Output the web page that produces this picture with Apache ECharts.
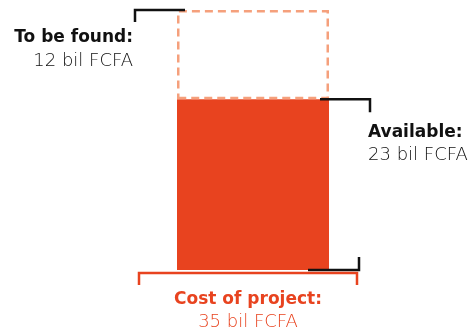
<!DOCTYPE html>
<html><head><meta charset="utf-8">
<script src="https://cdn.jsdelivr.net/npm/echarts@6/dist/echarts.min.js"></script>
<style>html,body{margin:0;padding:0;background:#fff}#c{width:473px;height:333px}</style>
</head><body><div id="c"></div>
<script>
const categories = ['Cost of project'];
const availableValues = [23];
const toBeFoundValues = [12];
const totalValues = [35];
const labelTitles = ['To be found:', 'Available:', 'Cost of project:'];
const labelValues = ['12 bil FCFA', '23 bil FCFA', '35 bil FCFA'];

const FONT = '"DejaVu Sans"';
const chart = echarts.init(document.getElementById('c'), null, {renderer: 'canvas'});
chart.setOption({
  animation: false,
  grid: {left: 177, right: 144, top: 10, bottom: 63},
  xAxis: {type: 'category', data: categories, show: false},
  yAxis: {type: 'value', min: 0, max: totalValues[0], show: false},
  series: [
    {name: 'Available', type: 'bar', stack: 't', barWidth: '100%', data: availableValues,
     itemStyle: {color: '#E8431F'}},
    {name: 'To be found', type: 'bar', stack: 't', barWidth: '100%', data: toBeFoundValues,
     itemStyle: {color: 'rgba(0,0,0,0)', borderColor: '#F5A07C', borderWidth: 2.5, borderType: [8, 5]}}
  ]
});

const yb = chart.convertToPixel({yAxisIndex: 0}, 0);
const ya = chart.convertToPixel({yAxisIndex: 0}, availableValues[0]);
const yt = chart.convertToPixel({yAxisIndex: 0}, availableValues[0] + toBeFoundValues[0]);
const xc = chart.convertToPixel({xAxisIndex: 0}, categories[0]);
const half = 76;
const x0 = xc - half, x1 = xc + half;
const blk = {stroke: '#111', lineWidth: 2.5, fill: 'none'};
const org = {stroke: '#E8431F', lineWidth: 2.5, fill: 'none'};
function pl(points, style) { return {type: 'polyline', shape: {points}, style, z: 10}; }
function txt(x, y, t, align, size, weight, color) {
  return {type: 'text', x, y, z: 10, style: {text: t, align, verticalAlign: 'middle', fontFamily: FONT, fontSize: size, fontWeight: weight, fill: color}};
}
chart.setOption({graphic: [
  pl([[x0 - 42, yt + 12], [x0 - 42, yt], [x0 + 8, yt]], blk),
  pl([[x1 - 9, ya], [x1 + 41, ya], [x1 + 41, ya + 13]], blk),
  pl([[x1 - 21, yb], [x1 + 30, yb], [x1 + 30, yb - 13]], blk),
  pl([[x0 - 38, yb + 15], [x0 - 38, yb + 3], [x1 + 28, yb + 3], [x1 + 28, yb + 15]], org),
  txt(x0 - 44, yt + 28, labelTitles[0], 'right', 17, 'bold', '#111'),
  txt(x0 - 44, yt + 51, labelValues[0], 'right', 18, 200, '#111'),
  txt(x1 + 39, ya + 33, labelTitles[1], 'left', 17, 'bold', '#111'),
  txt(x1 + 39, ya + 56, labelValues[1], 'left', 18, 200, '#111'),
  txt((x0 + x1) / 2 - 5, yb + 30, labelTitles[2], 'center', 17, 'bold', '#E8431F'),
  txt((x0 + x1) / 2 - 5, yb + 52, labelValues[2], 'center', 18, 200, '#E8431F')
]});
</script></body></html>
